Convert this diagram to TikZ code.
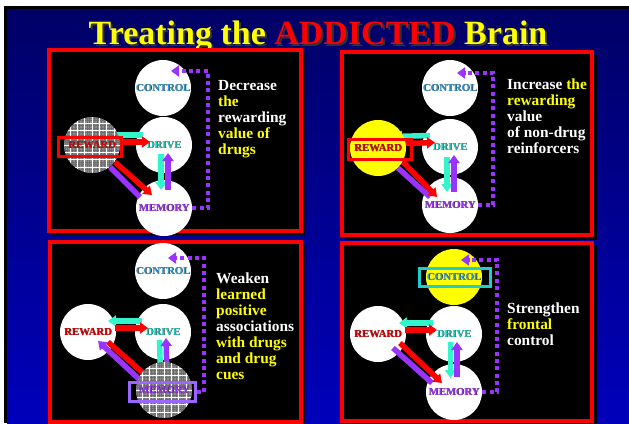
\documentclass[tikz,border=0pt]{standalone}
\usepackage{fontspec}
\setmainfont{Liberation Serif}
\usetikzlibrary{arrows.meta,calc}
\definecolor{ctrlC}{HTML}{3399CC}
\definecolor{drvC}{HTML}{22CCBB}
\definecolor{memC}{HTML}{9933EE}
\definecolor{rewC}{HTML}{DD0000}
\definecolor{arCy}{HTML}{33F5CC}
\definecolor{arPu}{HTML}{9933FF}
\definecolor{arRe}{HTML}{FF0000}
\definecolor{yel}{HTML}{FFFF00}
\definecolor{boxPu}{HTML}{9966FF}
\definecolor{boxCy}{HTML}{22CCCC}
\definecolor{navyT}{HTML}{000066}
\definecolor{blueM}{HTML}{00009E}
\definecolor{blueB}{HTML}{0000BB}
\definecolor{meshG}{HTML}{8C8C8C}
\definecolor{meshD}{HTML}{6E6E6E}
\newcommand{\labfont}{\fontsize{10.7}{12}\selectfont\bfseries}
\newcommand{\ptfont}{\fontsize{15.4}{16}\selectfont\bfseries}
\newcommand{\shd}[3]{\rlap{\kern#3\raisebox{-#3}{\textcolor{black!80}{#2}}}\textcolor{#1}{#2}}
\newcommand{\meshcircle}[2]{%
  \begin{scope}[shift={(#1,#2)}]
    \clip (0,0) circle[radius=28pt];
    \fill[meshG] (-30,-30) rectangle (30,30);
    \draw[meshD,line width=0.7pt,step=2.45pt] (-30,-30) grid (30,30);
    \draw[white,line width=0.8pt,step=7.35pt] (-30,-30) grid (30,30);
  \end{scope}}
\begin{document}
\begin{tikzpicture}[x=1pt,y=-1pt,
  wc/.style={circle,minimum size=56pt,inner sep=0pt,fill=white,font=\labfont},
  hc/.style={circle,minimum size=56pt,inner sep=0pt,fill=yel,font=\labfont},
  mc/.style={circle,minimum size=56pt,inner sep=0pt,font=\labfont},
  fat/.style={line width=5.5pt,-{Triangle[width=11pt,length=8pt]}},
  bar/.style={line width=5.5pt},
  panel/.style={draw=red,line width=4pt,fill=black},
  dotline/.style={draw=arPu,line width=4pt,dash pattern=on 4pt off 3.3pt,-{Triangle[width=11pt,length=8pt]}},
  hbox/.style={rectangle,line width=3pt,fill=none,inner sep=0pt},
  ptxt/.style={anchor=north west,align=left,inner sep=0pt,font=\ptfont,text=white}]
\useasboundingbox (0,0) rectangle (629,423);
% background
\fill[white] (0,0) rectangle (629,423);
\fill[black] (4,6) rectangle (629,423);
\shade[top color=navyT,middle color=blueM,bottom color=blueB] (7,9) rectangle (629,423);
% title
\node[anchor=base,inner sep=0pt,font=\fontsize{34}{40}\selectfont\bfseries] (title) at (318,44)
  {\shd{yel}{Treating the}{2pt} \shd{red}{ADDICTED}{2pt} \shd{yel}{Brain}{2pt}};
% panel shadows and panels
\fill[black] (52,53) rectangle (305,235);
\fill[black] (345,55) rectangle (597,240);
\fill[black] (53,245) rectangle (305,423);
\fill[black] (345,246) rectangle (597,423);
\draw[panel] (49,50) rectangle (300.5,230.5);
\draw[panel] (342,52) rectangle (592,235);
\draw[panel] (50,242) rectangle (300.5,421.5);
\draw[panel] (342,243) rectangle (592,421);

% ================= Panel 1 =================
\coordinate (r1) at (92,145);
\node[wc] (c1) at (163,88) {\shd{ctrlC}{CONTROL}{0.6pt}};
\node[wc] (d1) at (164,145) {\shd{drvC}{DRIVE}{0.6pt}};
\node[wc] (m1) at (164,208) {\shd{memC}{MEMORY}{0.6pt}};
\draw[fat,arCy] ($(d1)+(-21,-10)$) -- ($(r1)+(16,-10)$);
\draw[fat,arRe] ($(r1)+(27,-3)$) -- ($(d1)+(-14,-3)$);
\draw[fat,arCy] ($(d1)+(-3,9)$) -- ($(m1)+(-3,-18)$);
\draw[fat,arPu] ($(m1)+(4,-18)$) -- ($(d1)+(4,8)$);
\draw[bar,arPu] ($(m1)+(-24,-11)$) -- ($(r1)+(18,22)$);
\draw[fat,arRe] ($(r1)+(23,17)$) -- ($(m1)+(-12,-13)$);
\meshcircle{92}{145}
\node[mc] (r1n) at (r1) {\shd{rewC}{REWARD}{0.6pt}};
\node[hbox,draw=red,minimum width=63pt,minimum height=19pt] (rb1) at (90,147) {};
\coordinate (k1) at (208,71);
\coordinate (e1) at (171,71);
\draw[dotline] (m1.east) -| (k1) -- (e1);
\node[ptxt] (t1) at (218,80) {Decrease\\\textcolor{yel}{the}\\rewarding\\\textcolor{yel}{value of}\\\textcolor{yel}{drugs}};

% ================= Panel 2 =================
\coordinate (r2) at (378,148);
\node[wc] (c2) at (450,88) {\shd{ctrlC}{CONTROL}{0.6pt}};
\node[wc] (d2) at (450,147) {\shd{drvC}{DRIVE}{0.6pt}};
\node[wc] (m2) at (450,205) {\shd{memC}{MEMORY}{0.6pt}};
\draw[fat,arCy] ($(d2)+(-20,-11.5)$) -- ($(r2)+(16,-11.5)$);
\draw[fat,arRe] ($(r2)+(27,-4.5)$) -- ($(d2)+(-15,-4.5)$);
\draw[fat,arCy] ($(d2)+(-3,10)$) -- ($(m2)+(-3,-13)$);
\draw[fat,arPu] ($(m2)+(4,-13)$) -- ($(d2)+(4,8)$);
\draw[bar,arPu] ($(m2)+(-20,-8)$) -- ($(r2)+(20,20)$);
\draw[fat,arRe] ($(r2)+(25,14)$) -- ($(m2)+(-13,-8)$);
\node[hc] (r2n) at (r2) {\shd{rewC}{REWARD}{0.6pt}};
\node[hbox,draw=red,minimum width=63pt,minimum height=20pt] (rb2) at (380,149.5) {};
\coordinate (k2) at (493,73);
\coordinate (e2) at (457,73);
\draw[dotline] (m2.east) -| (k2) -- (e2);
\node[ptxt] (t2) at (507,79) {Increase \textcolor{yel}{the}\\\textcolor{yel}{rewarding}\\value\\of non-drug\\reinforcers};

% ================= Panel 3 =================
\coordinate (m3) at (164,390);
\node[wc] (c3) at (163,271) {\shd{ctrlC}{CONTROL}{0.6pt}};
\node[wc] (d3) at (163,332) {\shd{drvC}{DRIVE}{0.6pt}};
\node[wc] (r3) at (88,332) {\shd{rewC}{REWARD}{0.6pt}};
\draw[fat,arCy] ($(d3)+(-21,-11)$) -- ($(r3)+(20,-11)$);
\draw[fat,arRe] ($(r3)+(27,-4)$) -- ($(d3)+(-15,-4)$);
\draw[fat,arCy] ($(d3)+(-3.5,8)$) -- ($(m3)+(-3.5,-16)$);
\draw[fat,arPu] ($(m3)+(3,-16)$) -- ($(d3)+(3,6)$);
\draw[fat,arRe] ($(r3)+(20,10)$) -- ($(m3)+(-14,-11)$);
\draw[fat,arPu] ($(m3)+(-24,-10)$) -- ($(r3)+(10,9)$);
\meshcircle{164}{390}
\node[mc] (m3n) at (m3) {\shd{memC}{MEMORY}{0.6pt}};
\node[hbox,draw=boxPu,minimum width=66pt,minimum height=19pt] (mb3) at (162.5,392) {};
\coordinate (k3) at (204,258);
\coordinate (e3) at (168,258);
\draw[dotline] (mb3.east) -| (k3) -- (e3);
\node[ptxt] (t3) at (216,273) {Weaken\\\textcolor{yel}{learned}\\\textcolor{yel}{positive}\\associations\\\textcolor{yel}{with drugs}\\\textcolor{yel}{and drug}\\\textcolor{yel}{cues}};

% ================= Panel 4 =================
\node[wc] (d4) at (454,334) {\shd{drvC}{DRIVE}{0.6pt}};
\node[wc] (m4) at (454,392) {\shd{memC}{MEMORY}{0.6pt}};
\node[wc] (r4) at (378,334) {\shd{rewC}{REWARD}{0.6pt}};
\draw[fat,arCy] ($(d4)+(-21,-11)$) -- ($(r4)+(21,-11)$);
\draw[fat,arRe] ($(r4)+(27,-4)$) -- ($(d4)+(-17,-4)$);
\draw[fat,arCy] ($(d4)+(-3.5,8)$) -- ($(m4)+(-3.5,-14)$);
\draw[fat,arPu] ($(m4)+(3,-15)$) -- ($(d4)+(3,8)$);
\draw[bar,arPu] ($(m4)+(-22,-9)$) -- ($(r4)+(15,14)$);
\draw[fat,arRe] ($(r4)+(22,9)$) -- ($(m4)+(-12,-9)$);
\node[hc] (c4) at (454,277) {\shd{ctrlC}{CONTROL}{0.6pt}};
\node[hbox,draw=boxCy,minimum width=71pt,minimum height=18pt] (cb4) at (455,277.5) {};
\coordinate (k4) at (497,260);
\coordinate (e4) at (461,260);
\draw[dotline] (m4.east) -| (k4) -- (e4);
\node[ptxt] (t4) at (507,303) {Strengthen\\\textcolor{yel}{frontal}\\control};
\end{tikzpicture}
\end{document}
